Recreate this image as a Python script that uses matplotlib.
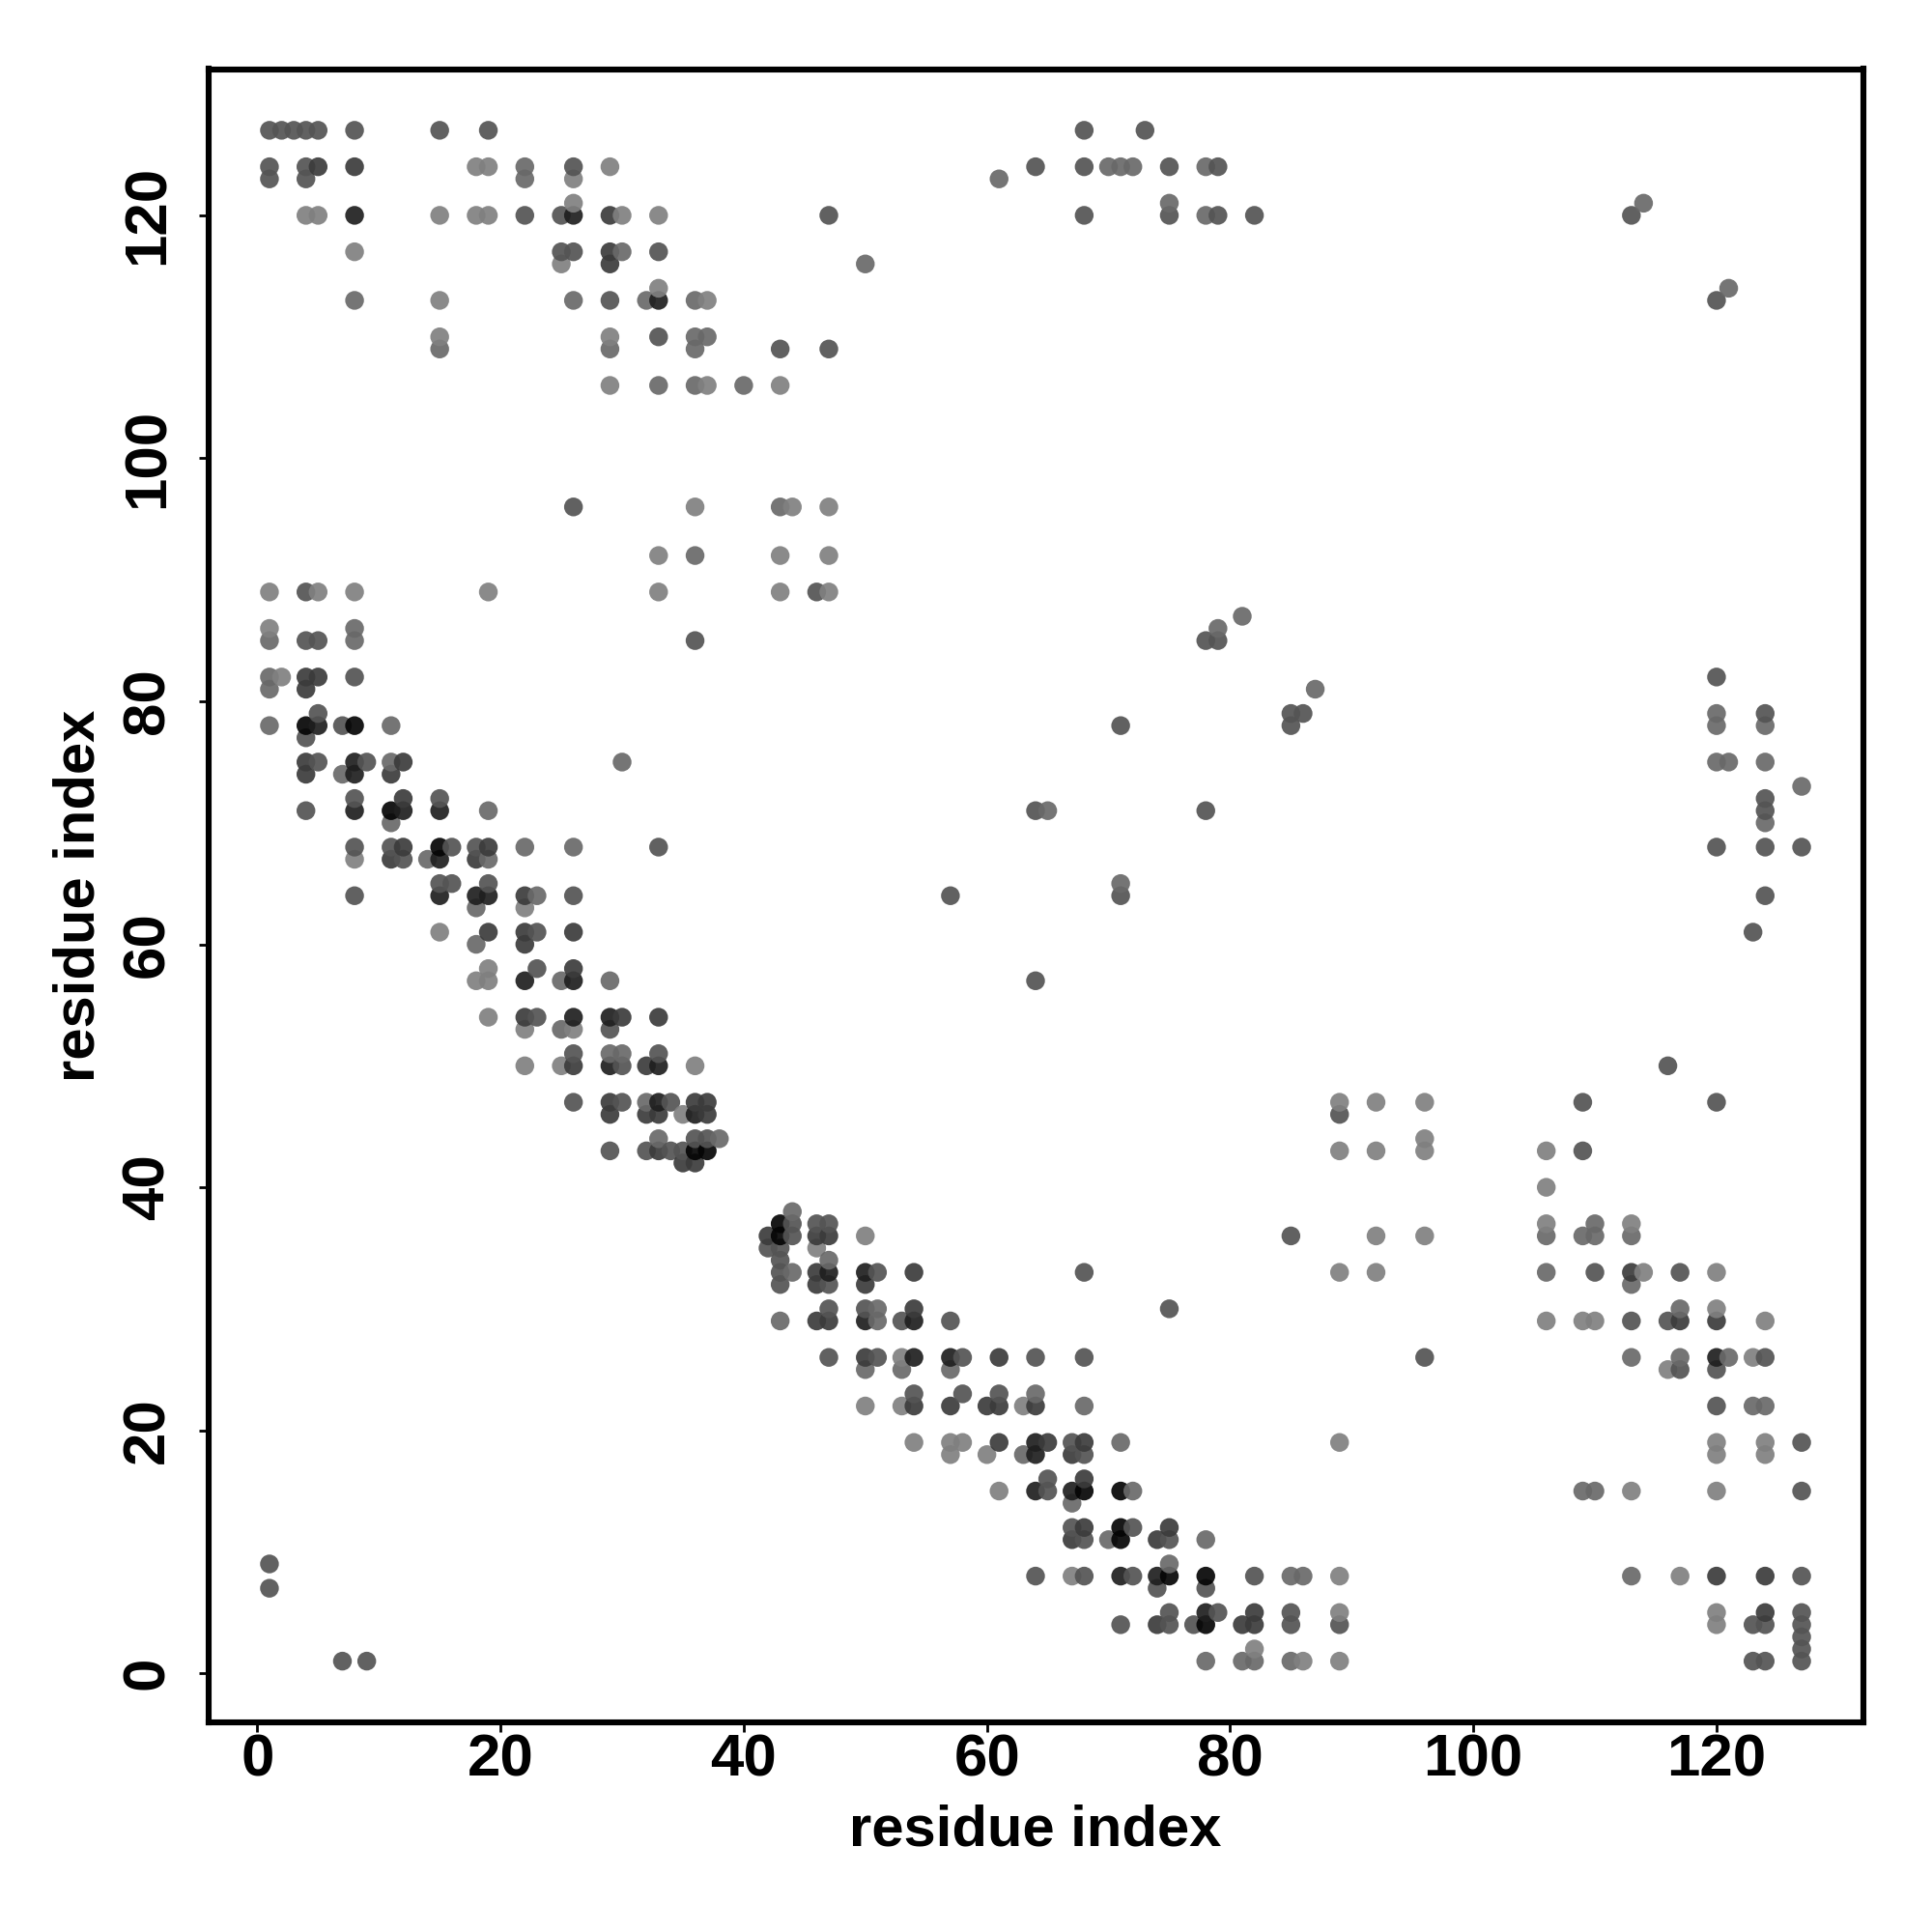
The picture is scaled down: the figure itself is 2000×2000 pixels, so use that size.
import matplotlib
matplotlib.use("Agg")
import matplotlib.pyplot as plt
import numpy as np

# contatos (residuo i, residuo j) separados por nivel de cinza
light = [(18,124),(19,124),(29,124),(26,123),(26,121),(4,120),(5,120),(15,120),(18,120),(19,120),(30,120),(33,120),
         (8,117),(25,116),(33,114),(15,113),(37,113),(15,110),(29,110),(29,106),(37,106),(43,106),
         (36,96),(44,96),(47,96),(33,92),(43,92),(47,92),(1,89),(5,89),(8,89),(19,89),(33,89),(43,89),(47,89),
         (1,86),(2,82),(8,67),(15,61),(22,63),(19,58),(18,57),(19,57),(19,54),(22,53),(26,53),(22,50),(25,50),(36,50),
         (89,47),(92,47),(96,47),(35,46),(96,44),(89,43),(92,43),(96,43),(106,43),(106,40),(106,37),(113,37),
         (46,35),(50,36),(92,36),(96,36),(89,33),(92,33),(114,33),(120,33),(120,30),(106,29),(109,29),(110,29),(124,29),
         (53,26),(123,26),(116,25),(50,22),(53,22),(63,22),(54,19),(57,19),(58,19),(89,19),(120,19),(124,19),
         (57,18),(60,18),(120,18),(124,18),(61,15),(113,15),(120,15),(67,8),(89,8),(117,8),(89,5),(120,5),(120,4),
         (82,2),(86,1),(89,1)]
mid = [(22,124),(70,124),(71,124),(72,124),(78,124),(22,123),(61,123),(75,121),(114,121),(78,120),(30,117),(50,116),(121,114),
       (8,113),(26,113),(32,113),(36,113),(36,110),(37,110),(15,109),(29,109),(36,109),(33,106),(36,106),(40,106),
       (43,96),(36,92),(81,87),(8,86),(79,86),(1,85),(8,85),(1,82),(1,81),(87,81),(120,79),(1,78),(11,78),(120,78),(124,78),
       (11,75),(30,75),(120,75),(121,75),(124,75),(7,74),(127,73),(19,71),(65,71),(11,70),(124,70),(22,68),(26,68),
       (14,67),(19,67),(71,65),(23,64),(18,63),(18,60),(25,57),(29,57),(25,53),(29,51),(30,51),(32,47),
       (33,44),(38,44),(44,38),(110,37),(109,36),(110,36),(113,36),(106,36),(44,33),(106,33),(47,34),(113,32),
       (51,30),(117,30),(43,29),(51,29),(113,26),(117,26),(121,26),(50,25),(53,25),(57,25),(64,23),(68,22),(123,22),(124,22),
       (71,19),(63,18),(72,15),(109,15),(110,15),(67,14),(70,11),(78,11),(75,9),(85,8),(86,8),(113,8),(78,1),(81,1),(82,1),(85,1)]
medium = [(1,127),(2,127),(3,127),(4,127),(5,127),(8,127),(15,127),(19,127),(68,127),(73,127),(1,124),(4,124),(26,124),(64,124),
          (68,124),(75,124),(79,124),(1,123),(4,123),(22,120),(25,120),(47,120),(68,120),(75,120),(79,120),(82,120),(113,120),
          (25,117),(26,117),(33,117),(29,113),(120,113),(33,110),(43,109),(47,109),(26,96),(4,89),(46,89),
          (4,85),(5,85),(36,85),(78,85),(79,85),(8,82),(120,82),(5,79),(85,79),(86,79),(124,79),(7,78),(71,78),(85,78),(4,77),
          (5,75),(9,75),(8,72),(15,72),(124,72),(4,71),(64,71),(78,71),(124,71),(8,68),(11,68),(16,68),(18,68),(33,68),
          (120,68),(124,68),(127,68),(12,67),(15,65),(16,65),(19,65),(8,64),(26,64),(57,64),(71,64),(124,64),(23,61),(123,61),
          (23,58),(64,57),(23,54),(29,53),(26,51),(33,51),(30,50),(116,50),(26,47),(30,47),(34,47),(109,47),(120,47),(89,46),
          (36,44),(37,44),(29,43),(32,43),(34,43),(35,43),(109,43),(44,37),(46,37),(47,37),(44,36),(85,36),(42,35),(43,35),(43,34),
          (43,33),(51,33),(68,33),(110,33),(117,33),(43,32),(47,32),(47,30),(50,30),(75,30),(53,29),(57,29),(113,29),(116,29),
          (47,26),(51,26),(58,26),(64,26),(68,26),(96,26),(124,26),(117,25),(120,25),(54,23),(58,23),(61,23),(120,22),
          (67,19),(127,19),(68,18),(65,16),(65,15),(127,15),(67,12),(72,12),(68,11),(75,11),(1,9),(64,8),(68,8),(72,8),(82,8),(127,8),
          (1,7),(74,7),(78,7),(75,5),(79,5),(85,5),(127,5),(71,4),(75,4),(77,4),(85,4),(89,4),(123,4),(124,4),(127,4),(127,3),(127,2),
          (7,1),(9,1),(123,1),(124,1),(127,1)]
dark = [(5,124),(8,124),(29,120),(29,117),(29,116),(4,82),(5,82),(4,81),(4,75),(12,75),(4,74),(11,74),(12,72),(12,68),(19,68),
        (11,67),(18,67),(22,64),(19,61),(22,61),(26,61),(22,60),(26,58),(22,54),(30,54),(33,54),(26,50),(32,50),(29,47),(36,47),(37,47),
        (29,46),(32,46),(33,46),(37,46),(33,43),(35,42),(36,42),(42,36),(46,36),(47,36),(46,33),(54,33),(113,33),(46,32),(50,32),
        (54,30),(46,29),(47,29),(117,29),(120,29),(50,26),(61,26),(54,22),(57,22),(60,22),(61,22),(64,22),(61,19),(65,19),(68,19),
        (67,18),(68,16),(68,12),(75,12),(67,11),(74,11),(120,8),(124,8),(82,5),(124,5),(74,4),(81,4),(82,4)]
darker = [(8,120),(26,120),(33,113),(5,78),(8,75),(8,74),(8,71),(12,71),(15,71),(15,67),(15,64),(18,64),(19,64),(22,57),(26,57),
          (26,54),(29,54),(29,50),(33,50),(33,47),(36,46),(47,33),(50,33),(50,29),(54,29),(54,26),(57,26),(120,26),
          (64,19),(64,18),(64,15),(67,15),(71,8),(74,8),(78,5)]
black = [(4,78),(8,78),(11,71),(15,68),(36,43),(37,43),(43,37),(43,36),(68,15),(71,15),(71,12),(71,11),(75,8),(78,8),(78,4)]

tick_values = [0, 20, 40, 60, 80, 100, 120]
x_limits = (-4.04, 132.04)
y_limits = (-4.04, 132.04)

levels = [light, mid, medium, dark, darker, black]
level_grays = [0.50, 0.41, 0.33, 0.23, 0.12, 0.02]

xs, ys, colors = [], [], []
for pts, g in zip(levels, level_grays):
    for px, py in pts:
        xs.append(px)
        ys.append(py)
        colors.append((g, g, g))
xs = np.array(xs)
ys = np.array(ys)
colors = np.array(colors)
order = np.lexsort((ys, xs))

plt.rcParams["font.family"] = ["Liberation Sans", "DejaVu Sans"]
plt.rcParams["font.weight"] = "bold"

fig = plt.figure(figsize=(10, 10), dpi=200)
ax = fig.add_axes([215.5 / 2000, 1 - 1783 / 2000, 1713 / 2000, 1711.5 / 2000])
ax.scatter(xs[order], ys[order], s=49, c=colors[order], alpha=0.92, linewidths=0, zorder=3)

ax.set_xlim(*x_limits)
ax.set_ylim(*y_limits)
ax.set_xticks(tick_values)
ax.set_yticks(tick_values)
ax.tick_params(axis="both", length=3.5, width=1.0, labelsize=22.3)
ax.tick_params(axis="x", pad=0.5)
ax.tick_params(axis="y", pad=8.5)
for lab in ax.get_yticklabels():
    lab.set_rotation(90)
    lab.set_va("center")
for sp in ax.spines.values():
    sp.set_linewidth(2.2)

ax.set_xlabel("residue index", fontsize=21.5, fontweight="bold", va="center")
ax.set_ylabel("residue index", fontsize=21.5, fontweight="bold", va="center")
ax.xaxis.set_label_coords(0.5, -0.0653)
ax.yaxis.set_label_coords(-0.0782, 0.5)

fig.savefig("out.png", dpi=200)
